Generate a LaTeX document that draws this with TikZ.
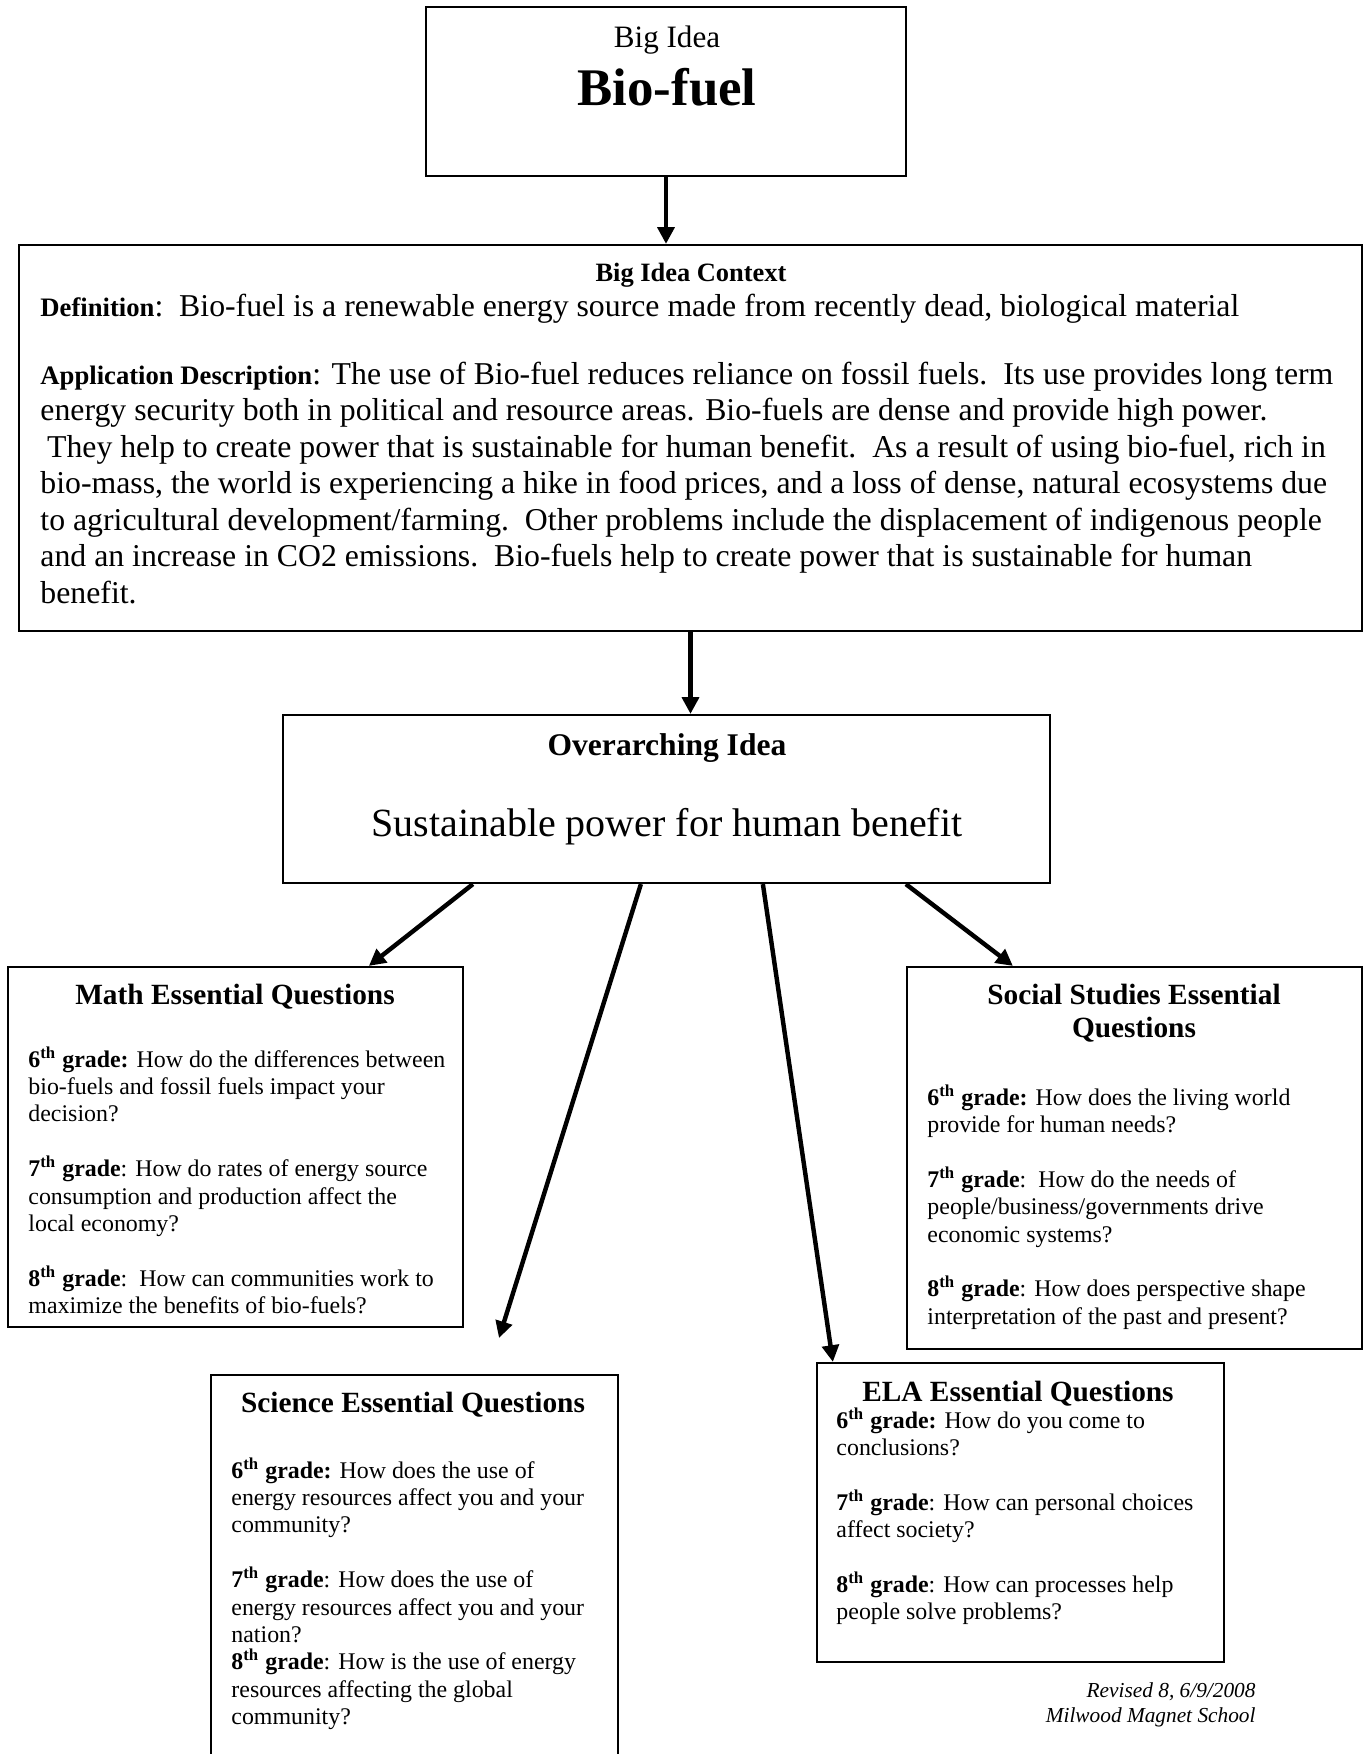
\documentclass[tikz,border=0pt]{standalone}
\usepackage{fontspec}
\setmainfont{Liberation Serif}
\usetikzlibrary{arrows.meta,fit,calc}
\newcommand{\qsize}{\fontsize{10.75pt}{12.33pt}\selectfont}
\newcommand{\tsize}{\fontsize{13.2pt}{14.85pt}\selectfont\bfseries}
\newcommand{\gr}[1]{\textbf{#1\textsuperscript{th} grade}}
\newcommand{\qgap}{\\[12.33pt]}
\tikzset{
  box/.style={draw, line width=1pt, inner sep=0pt},
  arr/.style={line width=2pt, -{Triangle[length=7.5pt,width=7.5pt]}},
  tb/.style={inner sep=0pt, anchor=base west},
  tc/.style={inner sep=0pt, anchor=base},
}
\begin{document}
\begin{tikzpicture}[x=0.45pt,y=-0.45pt]
\useasboundingbox (0,0) rectangle (1366,1754);
\fill[white] (0,0) rectangle (1366,1754);

% boxes
\node[box, fit={(426,7) (906,176)}] (big) {};
\node[box, fit={(19,245) (1362,631)}] (ctx) {};
\node[box, fit={(283,715) (1050,883)}] (over) {};
\node[box, fit={(8,967) (463,1327)}] (math) {};
\node[box, fit={(907,967) (1362,1349)}] (soc) {};
\node[box, fit={(211,1375) (618,1790)}] (sci) {};
\node[box, fit={(817,1363) (1224,1662)}] (ela) {};

% Big idea
\node[tc, font=\fontsize{14pt}{16pt}\selectfont] (bigl) at (667,47) {Big Idea};
\node[tc, font=\fontsize{23.8pt}{28pt}\selectfont\bfseries] (bigt) at (667,105) {Bio-fuel};

% Context
\node[tc, font=\fontsize{11.9pt}{14pt}\selectfont\bfseries] (ctxt) at (691,281) {Big Idea Context};
\node[tb, font=\fontsize{14.3pt}{16.45pt}\selectfont] (def) at (40,316)
  {{\fontsize{12pt}{14pt}\selectfont\bfseries Definition}:\ \ Bio-fuel is a renewable energy source made from recently dead, biological material};
\node[tb] (app) at (40,384) {\parbox[t]{800pt}{\raggedright\fontsize{14.3pt}{16.45pt}\selectfont
{\fontsize{12pt}{14pt}\selectfont\bfseries Application Description}: The use of Bio-fuel reduces reliance on fossil fuels.\ \ Its use provides long term\\
energy security both in political and resource areas. Bio-fuels are dense and provide high power.\\
\hspace*{3pt}They help to create power that is sustainable for human benefit.\ \ As a result of using bio-fuel, rich in\\
bio-mass, the world is experiencing a hike in food prices, and a loss of dense, natural ecosystems due\\
to agricultural development/farming.\ \ Other problems include the displacement of indigenous people\\
and an increase in CO2 emissions.\ \ Bio-fuels help to create power that is sustainable for human\\
benefit.}};

% Overarching
\node[tc, font=\fontsize{14.2pt}{16pt}\selectfont\bfseries] (ovt) at (667,755) {Overarching Idea};
\node[tc, font=\fontsize{18pt}{21pt}\selectfont] (ovs) at (667,836) {Sustainable power for human benefit};

% Math
\node[tc, font=\tsize] (matht) at (235,1004) {Math Essential Questions};
\node[tb] (mathq) at (28,1067) {\parbox[t]{400pt}{\raggedright\qsize
\gr{6}\textbf{:} How do the differences between\\
bio-fuels and fossil fuels impact your\\
decision?\qgap
\gr{7}: How do rates of energy source\\
consumption and production affect the\\
local economy?\qgap
\gr{8}:\ \ How can communities work to\\
maximize the benefits of bio-fuels?}};

% Social
\node[tc] (soct) at (1134,1004) {\parbox[t]{300pt}{\centering\tsize Social Studies Essential\\ Questions}};
\node[tb] (socq) at (927,1105) {\parbox[t]{400pt}{\raggedright\qsize
\gr{6}\textbf{:} How does the living world\\
provide for human needs?\qgap
\gr{7}:\ \ How do the needs of\\
people/business/governments drive\\
economic systems?\qgap
\gr{8}: How does perspective shape\\
interpretation of the past and present?}};

% Science
\node[tc, font=\tsize] (scit) at (413,1412) {Science Essential Questions};
\node[tb] (sciq) at (231,1478) {\parbox[t]{400pt}{\raggedright\qsize
\gr{6}\textbf{:} How does the use of\\
energy resources affect you and your\\
community?\qgap
\gr{7}: How does the use of\\
energy resources affect you and your\\
nation?\\
\gr{8}: How is the use of energy\\
resources affecting the global\\
community?}};

% ELA
\node[tc, font=\tsize] (elat) at (1018,1401) {ELA Essential Questions};
\node[tb] (elaq) at (836,1428) {\parbox[t]{400pt}{\raggedright\qsize
\gr{6}\textbf{:} How do you come to\\
conclusions?\qgap
\gr{7}: How can personal choices\\
affect society?\qgap
\gr{8}: How can processes help\\
people solve problems?}};

% footer
\node[inner sep=0pt, anchor=base east, font=\fontsize{9.6pt}{11pt}\selectfont\itshape] (rev) at (1256,1697) {Revised 8, 6/9/2008};
\node[inner sep=0pt, anchor=base east, font=\fontsize{9.6pt}{11pt}\selectfont\itshape] (mil) at (1256,1722) {Milwood Magnet School};

% connectors
\coordinate (sciend) at (499,1338);
\draw[arr] (big.south) -- (big.south |- ctx.north);
\draw[arr] (ctx.south) -- (ctx.south |- over.north);
\draw[arr] ($(over.south west)+(191,0)$) -- ($(math.north west)+(362,0)$);
\draw[arr] ($(over.south west)+(359,0)$) -- (sciend);
\draw[arr] ($(over.south west)+(481,0)$) -- ($(ela.north west)+(17,0)$);
\draw[arr] ($(over.south west)+(624,0)$) -- ($(soc.north west)+(107,0)$);
\end{tikzpicture}
\end{document}
